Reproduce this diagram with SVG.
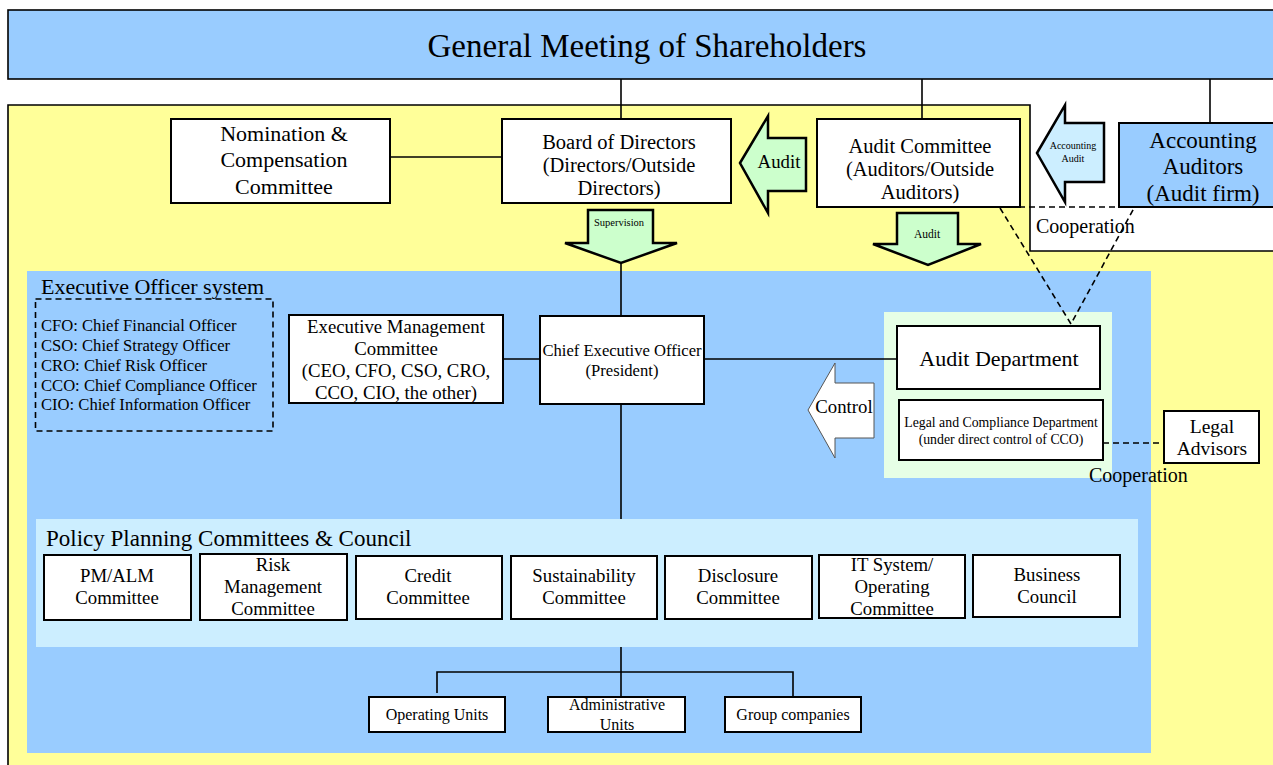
<svg xmlns="http://www.w3.org/2000/svg" width="1273" height="765" viewBox="0 0 1273 765">
<style>
text{font-family:"Liberation Serif","Times New Roman",serif;fill:#000;text-anchor:middle}
.box{fill:#fff;stroke:#000;stroke-width:2}
.ln{stroke:#000;stroke-width:1.6;fill:none}
.dash{stroke:#000;stroke-width:1.6;fill:none;stroke-dasharray:6 4}
.garr{fill:#ccffcc;stroke:#000;stroke-width:2.5}
.t20{font-size:22px}
.t21{font-size:20.5px}
.t17{font-size:18.8px}
.t15{font-size:16.6px}
.lft{text-anchor:start}
</style>
<rect width="1273" height="765" fill="#fff"/>
<g id="regions">
<path d="M8,105 H1030 V251 H1275 V770 H8 Z" fill="#ffff99" stroke="#000" stroke-width="1.6"/>
<rect x="27" y="271" width="1124" height="482" fill="#99ccff"/>
<rect x="884" y="312" width="228" height="166" fill="#e6ffe6"/>
<rect x="36" y="519" width="1102" height="128" fill="#cceeff"/>
</g>
<g id="connectors">
<line class="ln" x1="621" y1="79" x2="621" y2="119"/>
<line class="ln" x1="922" y1="79" x2="922" y2="119"/>
<line class="ln" x1="1210" y1="79" x2="1210" y2="123"/>
<line class="ln" x1="390" y1="157" x2="502" y2="157"/>
<line class="ln" x1="621" y1="262" x2="621" y2="316"/>
<line class="ln" x1="503" y1="359" x2="540" y2="359"/>
<line class="ln" x1="704" y1="359" x2="897" y2="359"/>
<line class="ln" x1="621" y1="404" x2="621" y2="519"/>
<line class="ln" x1="621" y1="647" x2="621" y2="697"/>
<polyline class="ln" points="437,693 437,672 793,672 793,697"/>
<polyline class="dash" points="1000,208 1071,324 1134,208"/>
<line class="dash" x1="1019" y1="207" x2="1119" y2="207"/>
<line class="dash" x1="1103" y1="443" x2="1164" y2="443"/>
<text class="lft" x="1036" y="233" font-size="20">Cooperation</text>
<text class="lft" x="1089" y="482" font-size="20">Cooperation</text>
</g>
<g id="general-meeting">
<rect x="8" y="10" width="1270" height="69" fill="#99ccff" stroke="#000" stroke-width="1.6"/>
<text x="647" y="57" font-size="33">General Meeting of Shareholders</text>
</g>
<g id="nomination">
<rect class="box" x="171" y="119" width="219" height="84"/>
<text class="t20" x="284" y="141">Nomination &amp;</text>
<text class="t20" x="284" y="167">Compensation</text>
<text class="t20" x="284" y="194">Committee</text>
</g>
<g id="board">
<rect class="box" x="502" y="119" width="229" height="84"/>
<text class="t21" x="619" y="149">Board of Directors</text>
<text class="t21" x="619" y="172">(Directors/Outside</text>
<text class="t21" x="619" y="195">Directors)</text>
</g>
<g id="audit-arrow-left">
<polygon class="garr" points="740,163 768,116 768,138 806,138 806,191 768,191 768,213"/>
<text class="t17" x="779" y="168">Audit</text>
</g>
<g id="audit-committee">
<rect class="box" x="817" y="119" width="203" height="88"/>
<text class="t21" x="920" y="153">Audit Committee</text>
<text class="t21" x="920" y="176">(Auditors/Outside</text>
<text class="t21" x="920" y="199">Auditors)</text>
</g>
<g id="accounting-audit-arrow">
<polygon points="1037,153 1065,105 1065,123 1104,123 1104,182 1065,182 1065,202" fill="#cceeff" stroke="#000" stroke-width="2.5"/>
<text x="1073" y="149" font-size="10">Accounting</text>
<text x="1073" y="162" font-size="10">Audit</text>
</g>
<g id="accounting-auditors">
<rect x="1119" y="123" width="160" height="84" fill="#99ccff" stroke="#000" stroke-width="2"/>
<text x="1203" y="148" font-size="23">Accounting</text>
<text x="1203" y="174" font-size="23">Auditors</text>
<text x="1203" y="201" font-size="23">(Audit firm)</text>
</g>
<g id="supervision-arrow">
<polygon class="garr" points="588,210 653,210 653,243 677,243 621,263 565,243 588,243"/>
<text x="619" y="226" font-size="10.5">Supervision</text>
</g>
<g id="audit-arrow-down">
<polygon class="garr" points="897,213 958,213 958,244 981,244 928,265 873,244 897,244"/>
<text x="927" y="238" font-size="11.5">Audit</text>
</g>
<g id="executive-officer-system">
<text class="lft" x="41" y="294" font-size="22">Executive Officer system</text>
<rect x="35.5" y="299" width="237.5" height="132" fill="none" stroke="#000" stroke-width="1.6" stroke-dasharray="6 4"/>
<text class="lft t15" x="41" y="331">CFO: Chief Financial Officer</text>
<text class="lft t15" x="41" y="351">CSO: Chief Strategy Officer</text>
<text class="lft t15" x="41" y="371">CRO: Chief Risk Officer</text>
<text class="lft t15" x="41" y="391">CCO: Chief Compliance Officer</text>
<text class="lft t15" x="41" y="410">CIO: Chief Information Officer</text>
</g>
<g id="executive-management">
<rect class="box" x="289" y="315" width="214" height="88"/>
<text class="t17" x="396" y="333">Executive Management</text>
<text class="t17" x="396" y="355">Committee</text>
<text class="t17" x="396" y="377">(CEO, CFO, CSO, CRO,</text>
<text class="t17" x="396" y="399">CCO, CIO, the other)</text>
</g>
<g id="ceo">
<rect class="box" x="540" y="316" width="164" height="88"/>
<text class="t15" x="622" y="356">Chief Executive Officer</text>
<text class="t15" x="622" y="376">(President)</text>
</g>
<g id="control-arrow">
<polygon points="808,410 835,363 835,383 874,383 874,438 835,438 835,458" fill="#fff" stroke="#555" stroke-width="1"/>
<text class="t17" x="844" y="413">Control</text>
</g>
<g id="audit-department">
<rect class="box" x="897" y="326" width="203" height="63"/>
<text class="t20" x="999" y="366">Audit Department</text>
</g>
<g id="legal-compliance">
<rect class="box" x="899" y="400" width="204" height="60"/>
<text x="1001" y="427" font-size="13.8">Legal and Compliance Department</text>
<text x="1001" y="444" font-size="13.8">(under direct control of CCO)</text>
</g>
<g id="legal-advisors">
<rect class="box" x="1164" y="411" width="95" height="52"/>
<text x="1212" y="433" font-size="19.5">Legal</text>
<text x="1212" y="455" font-size="19.5">Advisors</text>
</g>
<g id="policy-planning">
<text class="lft" x="46" y="546" font-size="23">Policy Planning Committees &amp; Council</text>
</g>
<g id="pm-alm">
<rect class="box" x="44" y="555" width="147" height="65"/>
<text class="t17" x="117" y="582">PM/ALM</text>
<text class="t17" x="117" y="604">Committee</text>
</g>
<g id="risk-management">
<rect class="box" x="200" y="554" width="147" height="66"/>
<text class="t17" x="273" y="571">Risk</text>
<text class="t17" x="273" y="593">Management</text>
<text class="t17" x="273" y="615">Committee</text>
</g>
<g id="credit">
<rect class="box" x="356" y="556" width="146" height="63"/>
<text class="t17" x="428" y="582">Credit</text>
<text class="t17" x="428" y="604">Committee</text>
</g>
<g id="sustainability">
<rect class="box" x="511" y="556" width="146" height="63"/>
<text class="t17" x="584" y="582">Sustainability</text>
<text class="t17" x="584" y="604">Committee</text>
</g>
<g id="disclosure">
<rect class="box" x="665" y="556" width="147" height="63"/>
<text class="t17" x="738" y="582">Disclosure</text>
<text class="t17" x="738" y="604">Committee</text>
</g>
<g id="it-system">
<rect class="box" x="819" y="555" width="146" height="63"/>
<text class="t17" x="892" y="571">IT System/</text>
<text class="t17" x="892" y="593">Operating</text>
<text class="t17" x="892" y="615">Committee</text>
</g>
<g id="business-council">
<rect class="box" x="973" y="555" width="147" height="62"/>
<text class="t17" x="1047" y="581">Business</text>
<text class="t17" x="1047" y="603">Council</text>
</g>
<g id="operating-units">
<rect class="box" x="369" y="697" width="136" height="35"/>
<text x="437" y="720" font-size="16">Operating Units</text>
</g>
<g id="administrative-units">
<rect class="box" x="548" y="697" width="137" height="35"/>
<text x="617" y="710" font-size="16">Administrative</text>
<text x="617" y="730" font-size="16">Units</text>
</g>
<g id="group-companies">
<rect class="box" x="725" y="697" width="136" height="35"/>
<text x="793" y="720" font-size="16">Group companies</text>
</g>
</svg>
